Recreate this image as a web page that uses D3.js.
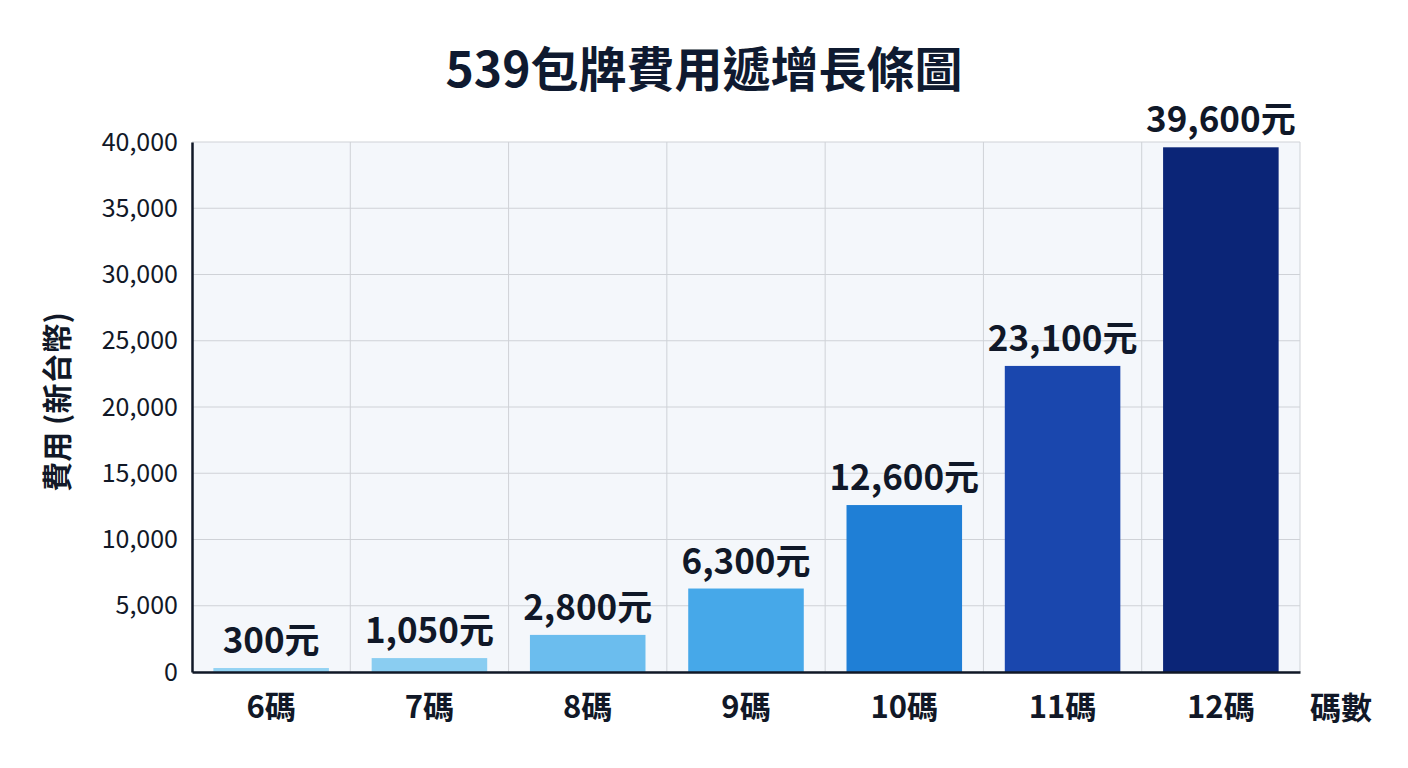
<!DOCTYPE html>
<html>
<head>
<meta charset="utf-8">
<script src="https://cdn.jsdelivr.net/npm/d3@7"></script>
<style>
  body { margin: 0; background: #ffffff; }
  svg { display: block; font-family: "Noto Sans CJK TC", "Noto Sans", sans-serif; }
</style>
</head>
<body>
<div id="chart"></div>
<script>
const categories = ["6碼", "7碼", "8碼", "9碼", "10碼", "11碼", "12碼"];
const costs = [300, 1050, 2800, 6300, 12600, 23100, 39600];
const barColors = ["#93d3f3", "#8acdf1", "#6bbdee", "#46a8e9", "#1f7fd6", "#1a47ae", "#0b2577"];
const yTicks = [0, 5000, 10000, 15000, 20000, 25000, 30000, 35000, 40000];

const W = 1408, H = 768;
const margin = { top: 142, right: 108, bottom: 96, left: 192 };
const width = W - margin.left - margin.right,
      height = H - margin.top - margin.bottom;

const svg = d3.select("#chart").append("svg")
    .attr("width", W)
    .attr("height", H);

svg.append("text")
    .attr("x", W / 2)
    .attr("y", 87)
    .attr("text-anchor", "middle")
    .attr("font-size", "48px")
    .attr("font-weight", "bold")
    .attr("fill", "#0f1a30")
    .text("539包牌費用遞增長條圖");

const g = svg.append("g")
    .attr("transform", `translate(${margin.left},${margin.top})`);

const x = d3.scaleBand()
    .domain(categories)
    .range([0, width])
    .paddingInner(0.27)
    .paddingOuter(0.135);

const y = d3.scaleLinear()
    .domain([0, 40000])
    .range([height, 0]);

// plot background
g.append("rect")
    .attr("width", width)
    .attr("height", height)
    .attr("fill", "#f4f7fb");

// horizontal grid
g.append("g")
    .selectAll("line")
    .data(yTicks)
    .enter()
    .append("line")
    .attr("x1", 0)
    .attr("x2", width)
    .attr("y1", d => y(d))
    .attr("y2", d => y(d))
    .attr("stroke", "#cfd2d7")
    .attr("stroke-width", 1);

// vertical grid at band edges
const step = x.step();
g.append("g")
    .selectAll("line")
    .data(categories)
    .enter()
    .append("line")
    .attr("x1", d => x(d) + x.bandwidth() + step * 0.27 / 2)
    .attr("x2", d => x(d) + x.bandwidth() + step * 0.27 / 2)
    .attr("y1", 0)
    .attr("y2", height)
    .attr("stroke", "#cfd2d7")
    .attr("stroke-width", 1);

// bars
g.selectAll(".bar")
    .data(costs)
    .enter()
    .append("rect")
    .attr("class", "bar")
    .attr("x", (d, i) => x(categories[i]))
    .attr("y", d => y(d))
    .attr("width", x.bandwidth())
    .attr("height", d => height - y(d))
    .attr("fill", (d, i) => barColors[i]);

// value labels
g.selectAll(".label")
    .data(costs)
    .enter()
    .append("text")
    .attr("class", "label")
    .attr("x", (d, i) => x(categories[i]) + x.bandwidth() / 2)
    .attr("y", d => y(d) - 15)
    .attr("text-anchor", "middle")
    .attr("font-size", "35px")
    .attr("font-weight", "bold")
    .attr("fill", "#101828")
    .text(d => d3.format(",")(d) + "元");

// y axis
const yAxis = g.append("g")
    .call(d3.axisLeft(y).tickValues(yTicks).tickSize(0).tickPadding(14).tickFormat(d3.format(",")));
yAxis.select(".domain").attr("stroke", "#111827").attr("stroke-width", 2.5);
yAxis.selectAll("text")
    .attr("font-size", "25px")
    .attr("font-family", "'Noto Sans CJK TC', 'Noto Sans', sans-serif")
    .attr("fill", "#111827");

// x axis
const xAxis = g.append("g")
    .attr("transform", `translate(0,${height})`)
    .call(d3.axisBottom(x).tickSize(0).tickPadding(24));
xAxis.select(".domain").attr("stroke", "#111827").attr("stroke-width", 2.5);
xAxis.selectAll("text")
    .attr("font-size", "31px")
    .attr("font-weight", "bold")
    .attr("font-family", "'Noto Sans CJK TC', 'Noto Sans', sans-serif")
    .attr("fill", "#111827");

// axis titles
svg.append("text")
    .attr("x", 1341)
    .attr("y", 719)
    .attr("text-anchor", "middle")
    .attr("font-size", "31px")
    .attr("font-weight", "bold")
    .attr("fill", "#111827")
    .text("碼數");

svg.append("text")
    .attr("transform", "translate(68,402) rotate(-90)")
    .attr("text-anchor", "middle")
    .attr("font-size", "30px")
    .attr("font-weight", "bold")
    .attr("fill", "#111827")
    .text("費用 (新台幣)");
</script>
</body>
</html>
